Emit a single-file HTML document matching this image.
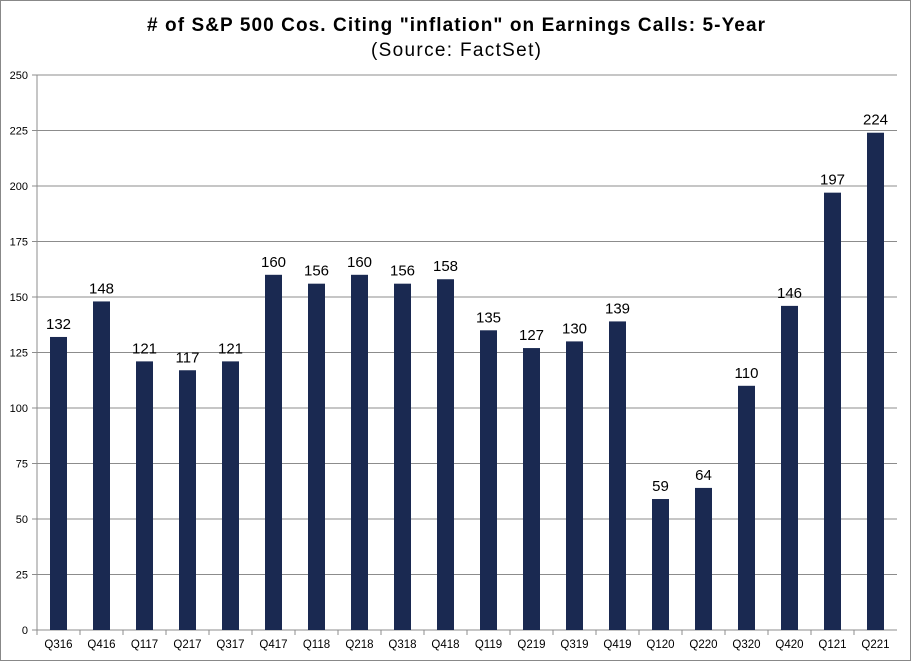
<!DOCTYPE html>
<html><head><meta charset="utf-8"><style>
body{margin:0;background:#fff}
svg{display:block;font-family:"Liberation Sans",Arial,sans-serif}
</style></head><body>
<svg id="c" width="912" height="662">
<rect x="0.5" y="0.5" width="910" height="660" fill="#fff" stroke="#888"/>
<text x="456" y="31" text-anchor="middle" font-size="19" font-weight="bold" textLength="618" lengthAdjust="spacing"># of S&amp;P 500 Cos. Citing "inflation" on Earnings Calls: 5-Year</text>
<text x="456" y="56" text-anchor="middle" font-size="19" textLength="170" lengthAdjust="spacing">(Source: FactSet)</text>
<g id="plot"></g>
</svg>
<script>
const categories=["Q316","Q416","Q117","Q217","Q317","Q417","Q118","Q218","Q318","Q418","Q119","Q219","Q319","Q419","Q120","Q220","Q320","Q420","Q121","Q221"];
const values=[132,148,121,117,121,160,156,160,156,158,135,127,130,139,59,64,110,146,197,224];
const yTicks=[0,25,50,75,100,125,150,175,200,225,250];
const x0=37,x1=897,y0=630,yTop=75,yMax=250;
const bw=(x1-x0)/categories.length;
const y=v=>y0-(v/yMax)*(y0-yTop);
const xc=i=>x0+bw*(i+0.5);
const NS="http://www.w3.org/2000/svg";
const g=document.getElementById('plot');
function mk(t,a,txt){const e=document.createElementNS(NS,t);for(const k in a)e.setAttribute(k,a[k]);if(txt!==undefined)e.textContent=txt;g.appendChild(e);return e;}
yTicks.forEach(v=>{
 const l=mk('line',{x1:x0-5,x2:x1,y1:y(v),y2:y(v),stroke:'#8c8c8c','stroke-width':1});
 
 
 const t=mk('text',{x:x0-9,y:y(v)+4,'text-anchor':'end','font-size':11},String(v));
 
 
});
const ax=mk('line',{x1:x0,x2:x0,y1:yTop,y2:y0,stroke:'#8c8c8c'});


const xa=mk('line',{x1:x0,x2:x1,y1:y0,y2:y0,stroke:'#8c8c8c'});


categories.forEach((c,i)=>{
 const tk=mk('line',{x1:x0+bw*i,x2:x0+bw*i,y1:y0,y2:y0+5,stroke:'#8c8c8c'});
 
 
 const v=values[i];
 const b=mk('rect',{x:xc(i)-8.5,y:y(v),width:17,height:y0-y(v),fill:'#1a2951'});
 
 
 const lb=mk('text',{x:xc(i),y:y(v)-8,'text-anchor':'middle','font-size':15},String(v));
 
 
 const xl=mk('text',{x:xc(i),y:y0+18,'text-anchor':'middle','font-size':11.5},c);
 
 
});
</script>
</body></html>
